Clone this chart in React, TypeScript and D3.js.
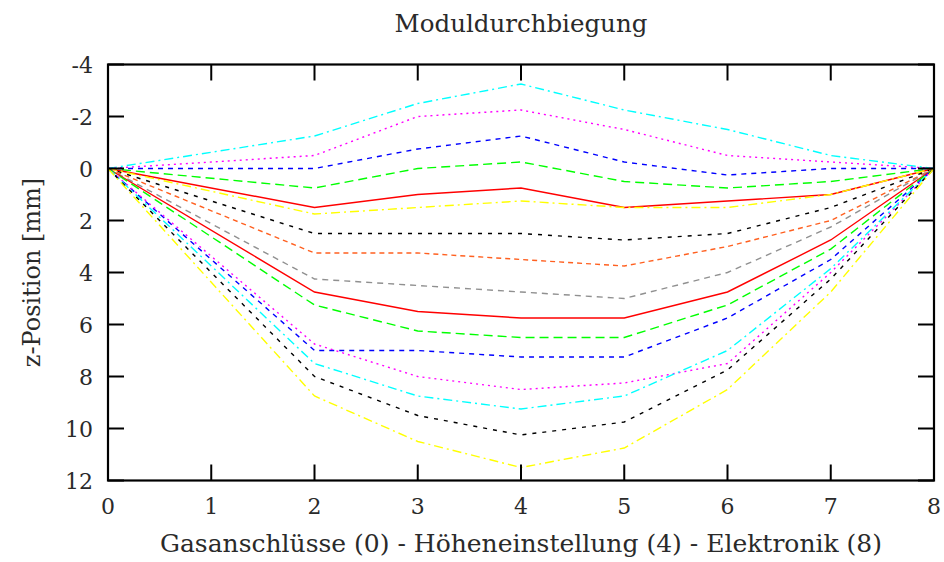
import React from "react";
import * as d3 from "d3";

const xPositions = [0, 2, 3, 4, 5, 6, 7, 8];
const xTicks = [0, 1, 2, 3, 4, 5, 6, 7, 8];
const yTicks = [-4, -2, 0, 2, 4, 6, 8, 10, 12];

const s01 = [0, -1.25, -2.5, -3.25, -2.25, -1.5, -0.5, 0];
const s02 = [0, -0.5, -2, -2.25, -1.5, -0.5, -0.25, 0];
const s03 = [0, 0, -0.75, -1.25, -0.25, 0.25, 0, 0];
const s04 = [0, 0.75, 0, -0.25, 0.5, 0.75, 0.5, 0];
const s05 = [0, 1.5, 1, 0.75, 1.5, 1.25, 1, 0];
const s06 = [0, 1.75, 1.5, 1.25, 1.5, 1.5, 1, 0];
const s07 = [0, 2.5, 2.5, 2.5, 2.75, 2.5, 1.5, 0];
const s08 = [0, 3.25, 3.25, 3.5, 3.75, 3, 2, 0];
const s09 = [0, 4.25, 4.5, 4.75, 5, 4, 2.25, 0];
const s10 = [0, 4.75, 5.5, 5.75, 5.75, 4.75, 2.75, 0];
const s11 = [0, 5.25, 6.25, 6.5, 6.5, 5.25, 3.1, 0];
const s12 = [0, 7, 7, 7.25, 7.25, 5.75, 3.5, 0];
const s13 = [0, 6.75, 8, 8.5, 8.25, 7.5, 4, 0];
const s14 = [0, 7.5, 8.75, 9.25, 8.75, 7, 3.85, 0];
const s15 = [0, 8, 9.5, 10.25, 9.75, 7.75, 4.25, 0];
const s16 = [0, 8.75, 10.5, 11.5, 10.75, 8.5, 4.75, 0];

const seriesList = [s01, s02, s03, s04, s05, s06, s07, s08, s09, s10, s11, s12, s13, s14, s15, s16];

const styles = [
  { color: "#00ffff", dash: "9,4,2,4" },
  { color: "#ff00ff", dash: "2,4" },
  { color: "#0000ff", dash: "5,5" },
  { color: "#00ff00", dash: "9,5" },
  { color: "#ff0000", dash: "" },
  { color: "#ffff00", dash: "9,4,2,4" },
  { color: "#000000", dash: "4,6" },
  { color: "#ff6020", dash: "5,4" },
  { color: "#909090", dash: "6,5" },
  { color: "#ff0000", dash: "" },
  { color: "#00ff00", dash: "9,5" },
  { color: "#0000ff", dash: "5,5" },
  { color: "#ff00ff", dash: "2,4" },
  { color: "#00ffff", dash: "9,4,2,4" },
  { color: "#000000", dash: "4,6" },
  { color: "#ffff00", dash: "9,4,2,4" },
];

const W = 944;
const H = 562;
const L = 108;
const R = 934;
const T = 64.5;
const B = 480.5;
const FONT = "\"DejaVu Serif\", \"Liberation Serif\", serif";

export default function App() {
  const x = d3.scaleLinear().domain([0, 8]).range([L, R]);
  const y = d3.scaleLinear().domain([-4, 12]).range([T, B]);
  const line = d3
    .line<number>()
    .x((_, i) => x(xPositions[i]))
    .y((d) => y(d));
  const tick = 16;
  const txt: React.CSSProperties = { fontFamily: FONT };

  return (
    <svg
      width={W}
      height={H}
      style={{ position: "absolute", left: 0, top: 0, background: "#fff" }}
    >
      <rect x={0} y={0} width={W} height={H} fill="#fff" />
      <text x={521} y={32} textAnchor="middle" fontSize={24.5} fill="#2a2a2a" style={txt}>
        Moduldurchbiegung
      </text>
      {seriesList.map((s, i) => (
        <path
          key={i}
          d={line(s) || ""}
          fill="none"
          stroke={styles[i].color}
          strokeWidth={1.4}
          strokeDasharray={styles[i].dash || undefined}
        />
      ))}
      {xTicks.map((t) => (
        <g key={"x" + t}>
          <line x1={x(t)} x2={x(t)} y1={B} y2={B - tick} stroke="#000" strokeWidth={2} />
          <line x1={x(t)} x2={x(t)} y1={T} y2={T + tick} stroke="#000" strokeWidth={2} />
          <text x={x(t)} y={B + 33} textAnchor="middle" fontSize={22} fill="#2a2a2a" style={txt}>
            {t}
          </text>
        </g>
      ))}
      {yTicks.map((t) => (
        <g key={"y" + t}>
          <line x1={L} x2={L + tick} y1={y(t)} y2={y(t)} stroke="#000" strokeWidth={2} />
          <line x1={R} x2={R - tick} y1={y(t)} y2={y(t)} stroke="#000" strokeWidth={2} />
          <text x={93} y={y(t) + 8} textAnchor="end" fontSize={22} fill="#2a2a2a" style={txt}>
            {t}
          </text>
        </g>
      ))}
      <rect x={L} y={T} width={R - L} height={B - T} fill="none" stroke="#000" strokeWidth={2.2} />
      <text x={521} y={552} textAnchor="middle" fontSize={25} fill="#2a2a2a" style={txt}>
        Gasanschlüsse (0) - Höheneinstellung (4) - Elektronik (8)
      </text>
      <text
        transform={`translate(40, ${(T + B) / 2}) rotate(-90)`}
        textAnchor="middle"
        fontSize={24}
        fill="#2a2a2a"
        style={txt}
      >
        z-Position [mm]
      </text>
    </svg>
  );
}
